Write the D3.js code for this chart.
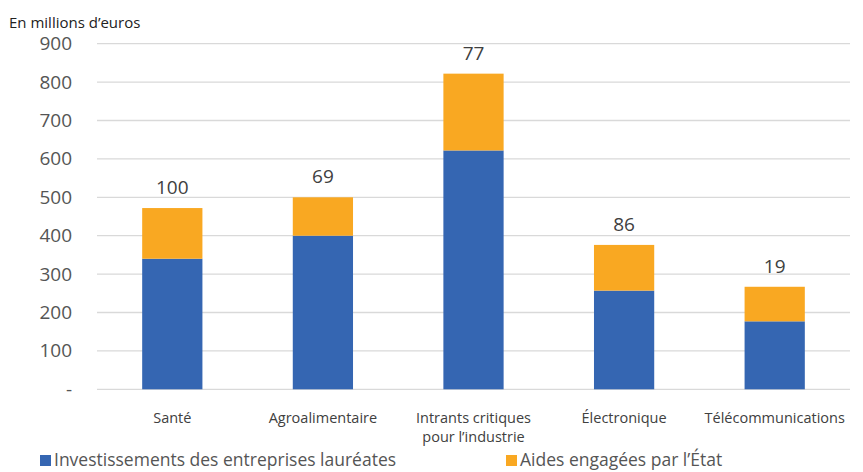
<!DOCTYPE html>
<html>
<head>
<meta charset="utf-8">
<script src="https://cdn.jsdelivr.net/npm/d3@7"></script>
<style>
  body { margin: 0; background: #fff; }
  svg text { font-family: "Open Sans", "DejaVu Sans", sans-serif; }
</style>
</head>
<body>
<div class="container"></div>
<script>
const categories = ["Santé", "Agroalimentaire", "Intrants critiques|pour l’industrie", "Électronique", "Télécommunications"];
const investissements = [340, 400, 622, 257, 177];
const aides = [132, 100, 200, 119, 90];
const dataLabels = ["100", "69", "77", "86", "19"];
const yTicks = [0, 100, 200, 300, 400, 500, 600, 700, 800, 900];
const seriesNames = ["Investissements des entreprises lauréates", "Aides engagées par l’État"];
const colors = ["#3566b2", "#f9a822"];

const w = 863;
const h = 472;
const plotLeft = 97, plotRight = 850, plotTop = 43.7, plotBottom = 389.3;

const svg = d3.select(".container")
  .append("svg")
  .attr("width", w)
  .attr("height", h);

const xScale = d3.scaleBand()
  .domain(categories)
  .range([plotLeft, plotRight])
  .paddingInner(0.6)
  .paddingOuter(0.3);

const yScale = d3.scaleLinear()
  .domain([0, 900])
  .range([plotBottom, plotTop]);

// gridlines
svg.append("g")
  .selectAll("line")
  .data(yTicks)
  .enter()
  .append("line")
  .attr("x1", plotLeft)
  .attr("x2", plotRight)
  .attr("y1", (d) => yScale(d))
  .attr("y2", (d) => yScale(d))
  .attr("stroke", "#d9d9d9")
  .attr("stroke-width", 1.3);

// y axis labels
const yAxis = d3.axisLeft(yScale)
  .tickValues(yTicks)
  .tickSize(0)
  .tickPadding(0)
  .tickFormat((d) => d === 0 ? "-" : d);

svg.append("g")
  .attr("transform", "translate(" + 72 + ",0)")
  .call(yAxis)
  .call((g) => g.select(".domain").remove())
  .selectAll("text")
  .attr("font-size", 19)
  .attr("fill", "#555")
  .attr("font-family", "\"Open Sans\", sans-serif");

svg.append("text")
  .attr("x", 9)
  .attr("y", 28)
  .attr("font-size", 15)
  .attr("fill", "#222")
  .text("En millions d’euros");

// stacked bars
const rows = categories.map((c, i) => ({ cat: c, inv: investissements[i], aid: aides[i], label: dataLabels[i] }));
const stack = d3.stack().keys(["inv", "aid"])(rows);

svg.selectAll("g.series")
  .data(stack)
  .enter()
  .append("g")
  .attr("class", "series")
  .attr("fill", (d, i) => colors[i])
  .selectAll("rect")
  .data((d) => d)
  .enter()
  .append("rect")
  .attr("x", (d) => xScale(d.data.cat))
  .attr("width", xScale.bandwidth())
  .attr("y", (d) => yScale(d[1]))
  .attr("height", (d) => yScale(d[0]) - yScale(d[1]));

// labels above bars
svg.selectAll("text.dlabel")
  .data(rows)
  .enter()
  .append("text")
  .attr("class", "dlabel")
  .attr("x", (d) => xScale(d.cat) + xScale.bandwidth() / 2)
  .attr("y", (d) => yScale(d.inv + d.aid) - 14)
  .attr("text-anchor", "middle")
  .attr("font-size", 19)
  .attr("fill", "#404040")
  .text((d) => d.label);

// category labels
const catG = svg.selectAll("text.cat")
  .data(categories)
  .enter()
  .append("text")
  .attr("class", "cat")
  .attr("text-anchor", "middle")
  .attr("font-size", 14.5)
  .attr("fill", "#404040")
  .attr("x", (d) => xScale(d) + xScale.bandwidth() / 2)
  .attr("y", 423);

catG.selectAll("tspan")
  .data((d) => d.split("|"))
  .enter()
  .append("tspan")
  .attr("x", function() { return d3.select(this.parentNode).attr("x"); })
  .attr("dy", (d, i) => i === 0 ? 0 : 19)
  .text((d) => d);

// legend
const legendX = [40, 506];
const legend = svg.append("g").attr("id", "legend");
seriesNames.forEach((name, i) => {
  legend.append("rect")
    .attr("x", legendX[i])
    .attr("y", 455)
    .attr("width", 11)
    .attr("height", 11)
    .attr("fill", colors[i]);
  legend.append("text")
    .attr("x", legendX[i] + 14)
    .attr("y", 466)
    .attr("font-size", 17.5)
    .attr("fill", "#555")
    .text(name);
});
</script>
</body>
</html>
